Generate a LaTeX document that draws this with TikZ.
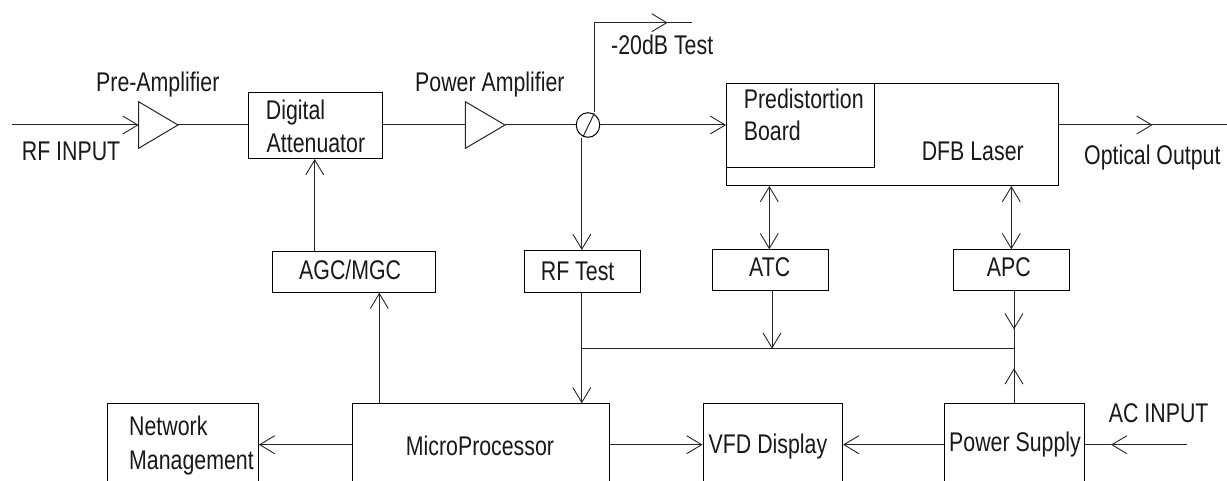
\documentclass[tikz,border=0pt]{standalone}
\usepackage{fontspec}
\setmainfont[FakeStretch=0.79]{Liberation Sans}
\usetikzlibrary{arrows.meta,shapes.geometric}
\tikzset{
  wire/.style={draw=black!85,line width=1pt},
  arr/.style={wire,-{Straight Barb[length=15pt,width=18pt,line width=.9pt]}},
  darr/.style={wire,{Straight Barb[length=15pt,width=18pt,line width=.9pt]}-{Straight Barb[length=15pt,width=18pt,line width=.9pt]}},
  box/.style={draw=black,line width=1pt,rectangle,inner sep=0pt,anchor=north west},
  txt/.style={inner sep=0pt,anchor=base west,font=\fontsize{27}{27}\selectfont,text=black!90}
}
\newcommand{\blockbox}[5]{\node[box,minimum width={(#4-#2)*1pt},minimum height={(#5-#3)*1pt}] (#1) at (#2,#3) {};}
\begin{document}
\begin{tikzpicture}[x=1pt,y=-1pt]
\useasboundingbox (0,0) rectangle (1227,481);
\clip (0,0) rectangle (1227,481);
\fill[white] (0,0) rectangle (1227,481);
% boxes
\blockbox{dig}{248.3}{92.3}{381.6}{158}
\blockbox{laser}{726}{83}{1058}{185}
\blockbox{pre}{726}{83}{874}{167}
\blockbox{agc}{272}{251}{434.6}{291.7}
\blockbox{rft}{523.6}{250}{639.6}{291.7}
\blockbox{atc}{711.5}{249.3}{827.6}{290.3}
\blockbox{apc}{953.4}{249.3}{1069.4}{290.3}
\blockbox{net}{106.8}{403.3}{257.9}{520}
\blockbox{mp}{351.8}{403.3}{609.3}{520}
\blockbox{vfd}{702.5}{403.3}{842}{520}
\blockbox{psu}{944.4}{403.3}{1084}{520}
% amplifiers
\coordinate (a1in) at (138.6,125);
\coordinate (a1out) at (178,125);
\coordinate (a2in) at (465.4,125);
\coordinate (a2out) at (505,125);
\draw[wire,line join=miter] (138.6,101.7) -- (a1out) -- (138.6,148.3) -- cycle;
\draw[wire,line join=miter] (465.4,101.7) -- (a2out) -- (465.4,148.3) -- cycle;
% splitter
\node[draw=black,line width=1pt,ellipse,minimum width=23.5pt,minimum height=24.6pt,inner sep=0pt] (split) at (588,125) {};
\draw[wire] (583,136.7) -- (594.3,113.3);
% free ends and routing points
\coordinate (rfin) at (12,125);
\coordinate (testcorner) at (594.3,22.7);
\coordinate (testtip) at (667.6,22.7);
\coordinate (testend) at (692,22.7);
\coordinate (opttip) at (1152.5,125);
\coordinate (optend) at (1227,125);
\coordinate (acend) at (1186.6,444.7);
\coordinate (actip) at (1111,444.7);
\coordinate (xagc) at (314.7,0);
\coordinate (xmpa) at (379.3,0);
\coordinate (xrf) at (581.8,0);
\coordinate (xatcu) at (769.3,0);
\coordinate (xatcd) at (772,0);
\coordinate (xapcu) at (1011.3,0);
\coordinate (xapcd) at (1014,0);
\coordinate (ybus) at (0,348.7);
\coordinate (ylow) at (0,444.7);
\coordinate (ymain) at (0,125);
\coordinate (busl) at (xrf |- ybus);
\coordinate (busr) at (xapcd |- ybus);
\coordinate (apctip) at (1014,329.3);
\coordinate (psutip) at (1014,368.3);
% signal path
\draw[arr] (rfin) -- (a1in);
\draw[wire] (a1out) -- (dig.west |- ymain);
\draw[wire] (dig.east |- ymain) -- (a2in);
\draw[wire] (a2out) -- (split.west);
\draw[arr] (split.east) -- (pre.west |- ymain);
\draw[wire] (laser.east |- ymain) -- (optend);
\draw[arr] (laser.east |- ymain) -- (opttip);
\draw[wire] (testcorner |- split.north) -- (testcorner) -- (testend);
\draw[arr] (testcorner) -- (testtip);
\draw[arr] (xrf |- split.south) -- (rft.north -| xrf);
% control
\draw[arr] (agc.north -| xagc) -- (dig.south -| xagc);
\draw[arr] (mp.north -| xmpa) -- (agc.south -| xmpa);
\draw[arr] (rft.south -| xrf) -- (mp.north -| xrf);
\draw[darr] (atc.north -| xatcu) -- (laser.south -| xatcu);
\draw[darr] (apc.north -| xapcu) -- (laser.south -| xapcu);
\draw[arr] (atc.south -| xatcd) -- (busl -| xatcd);
\draw[wire] (busl) -- (busr);
\draw[wire] (apc.south -| xapcd) -- (psu.north -| xapcd);
\draw[arr] (apc.south -| xapcd) -- (apctip);
\draw[arr] (psu.north -| xapcd) -- (psutip);
% bottom row
\draw[arr] (mp.west |- ylow) -- (net.east |- ylow);
\draw[arr] (mp.east |- ylow) -- (vfd.west |- ylow);
\draw[arr] (psu.west |- ylow) -- (vfd.east |- ylow);
\draw[wire] (acend) -- (psu.east |- ylow);
\draw[arr] (acend) -- (actip);
% labels
\node[txt] (t1) at (21.7,160.7) {RF INPUT};
\node[txt] (t2) at (96,91.7) {Pre-Amplifier};
\node[txt] (t3) at (265.7,120) {Digital};
\node[txt] (t4) at (266.5,152.3) {Attenuator};
\node[txt] (t5) at (415,91.7) {Power Amplifier};
\node[txt] (t6) at (611,55) {-20dB Test};
\node[txt] (t7) at (743.7,108.7) {Predistortion};
\node[txt] (t8) at (743.7,140.7) {Board};
\node[txt] (t9) at (921.6,161) {DFB Laser};
\node[txt] (t10) at (1084,165) {Optical Output};
\node[txt] (t11) at (299,279.3) {AGC/MGC};
\node[txt] (t12) at (540.7,280) {RF Test};
\node[txt] (t13) at (749,276.7) {ATC};
\node[txt] (t14) at (986.7,276.7) {APC};
\node[txt] (t15) at (129,435.7) {Network};
\node[txt] (t16) at (129,469) {Management};
\node[txt] (t17) at (405.7,455) {MicroProcessor};
\node[txt] (t18) at (708.5,453) {VFD Display};
\node[txt] (t19) at (949,451.7) {Power Supply};
\node[txt] (t20) at (1108.7,422.7) {AC INPUT};
\end{tikzpicture}
\end{document}
